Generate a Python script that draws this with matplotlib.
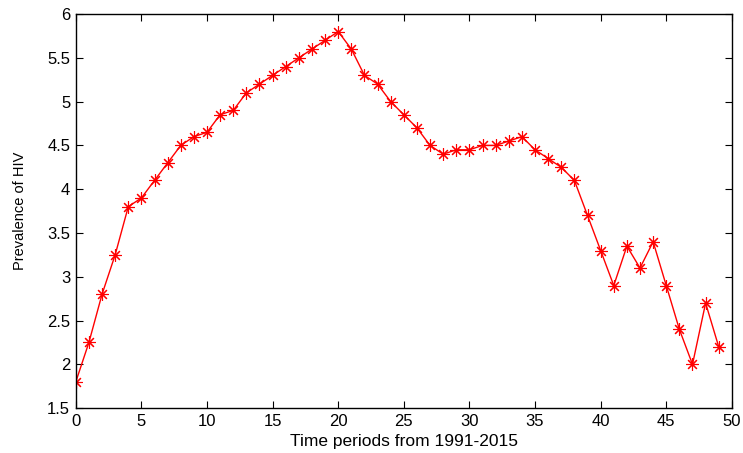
import matplotlib
matplotlib.use('Agg')
import matplotlib.pyplot as plt

periods = list(range(0, 50))
prevalence = [1.8, 2.25, 2.8, 3.25, 3.8, 3.9, 4.1, 4.3, 4.5, 4.6,
              4.65, 4.85, 4.9, 5.1, 5.2, 5.3, 5.4, 5.5, 5.6, 5.7,
              5.8, 5.6, 5.3, 5.2, 5.0, 4.85, 4.7, 4.5, 4.4, 4.45,
              4.45, 4.5, 4.5, 4.55, 4.6, 4.45, 4.35, 4.25, 4.1, 3.7,
              3.3, 2.9, 3.35, 3.1, 3.4, 2.9, 2.4, 2.0, 2.7, 2.2]
ytick_vals = [1.5, 2, 2.5, 3, 3.5, 4, 4.5, 5, 5.5, 6]
ytick_labels = ['1.5', '2', '2.5', '3', '3.5', '4', '4.5', '5', '5.5', '6']

plt.rcParams['font.family'] = ['Liberation Sans', 'DejaVu Sans']

fig = plt.figure(figsize=(7.43, 4.53), dpi=100)
ax = fig.add_axes([0.102, 0.099, 0.883, 0.870])

# matlab style red line with asterisk markers
ax.plot(periods, prevalence, color='red', linewidth=1.0, marker=(8, 2, 0),
        markersize=9, markeredgewidth=0.8)

ax.set_xlim(0, 50)
ax.set_ylim(1.5, 6)
ax.set_xticks(range(0, 51, 5))
ax.set_yticks(ytick_vals)
ax.set_yticklabels(ytick_labels)
ax.tick_params(direction='in', top=True, right=True, labelsize=12, length=5, pad=4)
for s in ax.spines.values():
    s.set_linewidth(1.0)

ax.set_xlabel('Time periods from 1991-2015', fontsize=12.5)
ax.set_ylabel('Prevalence of HIV', fontsize=10.5)
ax.xaxis.set_label_coords(0.5, -0.065)
ax.yaxis.set_label_coords(-0.074, 0.5)

fig.savefig('out.png', dpi=100)
